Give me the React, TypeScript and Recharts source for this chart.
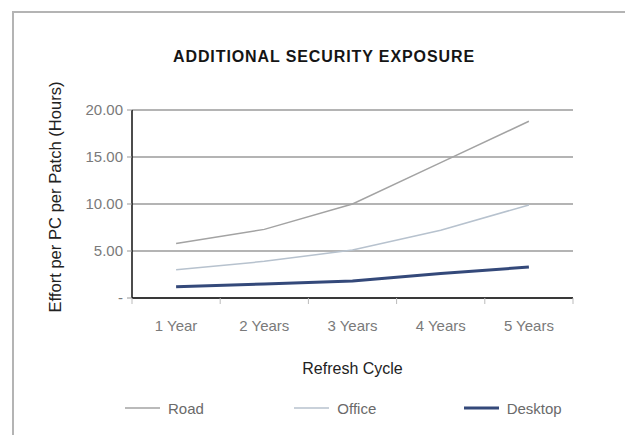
import React from 'react';
import { LineChart, Line, XAxis, YAxis, CartesianGrid, Legend } from 'recharts';

const categories = ['1 Year', '2 Years', '3 Years', '4 Years', '5 Years'];
const seriesNames = ['Road', 'Office', 'Desktop'];
const road = [5.8, 7.3, 10.0, 14.4, 18.8];
const office = [3.0, 3.9, 5.1, 7.2, 9.9];
const desktop = [1.2, 1.5, 1.8, 2.6, 3.3];
const yTicks = [0, 5, 10, 15, 20];

const data = categories.map((c, i) => ({
  cycle: c,
  Road: road[i],
  Office: office[i],
  Desktop: desktop[i],
}));

const FONT = '"Liberation Sans", Arial, Helvetica, sans-serif';
const HALF_BAND = 44.1;

const XTick = (props: any) => {
  const { x, y, payload, index, visibleTicksCount } = props;
  const last = index === visibleTicksCount - 1;
  return (
    <g>
      <line x1={x - HALF_BAND} x2={x - HALF_BAND} y1={y} y2={y + 6} stroke="#bbb" strokeWidth={1} />
      {last && <line x1={x + HALF_BAND} x2={x + HALF_BAND} y1={y} y2={y + 6} stroke="#bbb" strokeWidth={1} />}
      <text x={x} y={y + 27} textAnchor="middle" dominantBaseline="central" fontSize={15} fill="#7a7a7a" fontFamily={FONT}>
        {payload.value}
      </text>
    </g>
  );
};

const renderLegend = (props: any) => {
  const payload = [...(props.payload || [])].sort(
    (a: any, b: any) => seriesNames.indexOf(a.value) - seriesNames.indexOf(b.value)
  );
  return (
    <div style={{ display: 'flex', paddingLeft: 125, height: 20, alignItems: 'center', fontFamily: FONT }}>
      {payload.map((entry: any) => (
        <div key={entry.value} style={{ width: 171, display: 'flex', alignItems: 'center' }}>
          <svg width={35} height={4} style={{ display: 'block' }}>
            <line x1={0} x2={35} y1={2} y2={2} stroke={entry.color} strokeWidth={entry.value === 'Desktop' ? 3 : 1.5} />
          </svg>
          <span style={{ marginLeft: 8, fontSize: 15, color: '#6a6a6a' }}>{entry.value}</span>
        </div>
      ))}
    </div>
  );
};

export default function App() {
  return (
    <div style={{ position: 'relative', margin: -8, width: 633, height: 443, overflow: 'hidden', background: '#fff' }}>
      <div
        style={{
          position: 'absolute',
          left: 12,
          top: 11,
          width: 700,
          height: 500,
          borderTop: '2px solid #b4b4b4',
          borderLeft: '2px solid #b4b4b4',
        }}
      />
      <div
        style={{
          position: 'absolute',
          left: 0,
          top: 47,
          width: 648,
          textAlign: 'center',
          fontFamily: FONT,
          fontWeight: 'bold',
          fontSize: 16,
          letterSpacing: 0.9,
          lineHeight: '19px',
          color: '#151515',
        }}
      >
        ADDITIONAL SECURITY EXPOSURE
      </div>
      <div style={{ position: 'absolute', left: 0, top: 0 }}>
        <LineChart width={633} height={443} data={data} margin={{ top: 110, right: 60, bottom: 25, left: 0 }}>
          <CartesianGrid horizontal vertical={false} stroke="#6a6a6a" strokeWidth={1.2} />
          <XAxis
            dataKey="cycle"
            height={100}
            padding={{ left: HALF_BAND, right: HALF_BAND }}
            tickLine={false}
            tickSize={0}
            tickMargin={0}
            axisLine={{ stroke: '#111', strokeWidth: 1.5 }}
            tick={<XTick />}
            interval={0}
            label={{ value: 'Refresh Cycle', position: 'insideBottom', offset: 24, fontSize: 16, fill: '#222', fontFamily: FONT }}
          />
          <YAxis
            width={132}
            domain={[0, 20]}
            ticks={yTicks}
            interval={0}
            tickFormatter={(v: number) => (v === 0 ? '-' : v.toFixed(2))}
            tick={{ fontSize: 15, fill: '#7a7a7a', fontFamily: FONT }}
            tickSize={5}
            tickMargin={4}
            tickLine={{ stroke: '#999' }}
            axisLine={{ stroke: '#111', strokeWidth: 1.5 }}
            label={{
              value: 'Effort per PC per Patch (Hours)',
              angle: -90,
              position: 'insideLeft',
              offset: 55,
              dy: -7,
              style: { textAnchor: 'middle', fontSize: 16.6, fill: '#222', fontFamily: FONT },
            }}
          />
          <Legend verticalAlign="bottom" height={20} wrapperStyle={{ left: 0, width: 633 }} content={renderLegend} />
          <Line type="linear" dataKey="Road" stroke="#a3a3a3" strokeWidth={1.5} dot={false} isAnimationActive={false} />
          <Line type="linear" dataKey="Office" stroke="#b7c2ce" strokeWidth={1.5} dot={false} isAnimationActive={false} />
          <Line type="linear" dataKey="Desktop" stroke="#34497a" strokeWidth={3} dot={false} isAnimationActive={false} />
        </LineChart>
      </div>
    </div>
  );
}
